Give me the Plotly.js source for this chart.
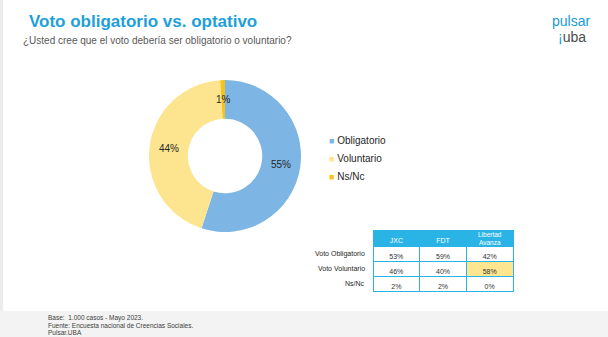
<!DOCTYPE html>
<html>
<head>
<meta charset="utf-8">
<script src="https://cdn.plot.ly/plotly-3.0.1.min.js"></script>
<style>
html,body{margin:0;padding:0;background:#fff;}
#chart{width:608px;height:337px;}
</style>
</head>
<body>
<div id="chart"></div>
<script>
// ---- data ----
const sliceLabels = ["Obligatorio", "Voluntario", "Ns/Nc"];
const sliceValues = [55, 44, 1];
const sliceColors = ["#7db6e4", "#fde590", "#f5c31c"];

const tableColumns = ["JXC", "FDT", "Libertad<br>Avanza"];
const tableRows = ["Voto Obligatorio", "Voto Voluntario", "Ns/Nc"];
const colJXC = ["53%", "46%", "2%"];
const colFDT = ["59%", "40%", "2%"];
const colLLA = ["42%", "58%", "0%"];

const titleText = "Voto obligatorio vs. optativo";
const subtitleText = "¿Usted cree que el voto debería ser obligatorio o voluntario?";
const footerLines = ["Base:  1.000 casos - Mayo 2023.", "Fuente: Encuesta nacional de Creencias Sociales.", "Pulsar.UBA"];

// ---- layout helpers ----
const W = 608, H = 337;
const px = x => x / W;
const py = y => 1 - y / H;

const pieCx = 225, pieCy = 156, pieR = 76, holeFrac = 0.49;
const FONT = "Liberation Sans, Arial, sans-serif";

const pie = {
  type: "pie",
  labels: sliceLabels,
  values: sliceValues,
  marker: {colors: sliceColors, line: {color: "#ffffff", width: 0}},
  hole: holeFrac,
  sort: false,
  direction: "clockwise",
  rotation: 0,
  textinfo: "none",
  hoverinfo: "label+percent",
  showlegend: false,
  domain: {x: [px(pieCx - pieR), px(pieCx + pieR)], y: [py(pieCy + pieR), py(pieCy - pieR)]}
};

// table geometry
const tX0 = 373, tX1 = 513, tY0 = 230, headH = 16, rowH = 15;
const fillCol = c => tableRows.map((r, i) => (c === 2 && i === 1) ? "#fde68f" : "#ffffff");
// header cells with multi-line labels are drawn as annotations on top of the header row
const headerSingle = tableColumns.map(t => t.indexOf("<br>") >= 0 ? "" : t);
const table = {
  type: "table",
  columnwidth: [1, 1, 1],
  domain: {x: [px(tX0), px(tX1)], y: [py(tY0 + headH + rowH * 3 + 2), py(tY0)]},
  header: {
    values: headerSingle,
    align: "center",
    height: headH,
    fill: {color: "#2ab4e6"},
    line: {color: "#2ab4e6", width: 1},
    font: {family: FONT, size: 7, color: "#ffffff"}
  },
  cells: {
    values: [colJXC, colFDT, colLLA],
    align: "center",
    height: rowH,
    fill: {color: [fillCol(0), fillCol(1), fillCol(2)]},
    line: {color: "#2ab4e6", width: 1},
    font: {family: FONT, size: 7, color: "#333333"}
  }
};

const annotations = [];
// title/subtitle
annotations.push({xref: "paper", yref: "paper", x: px(27), y: py(21), xanchor: "left", yanchor: "middle",
  text: "<b>" + titleText + "</b>", showarrow: false, font: {family: FONT, size: 17, color: "#1d9fdb"}});
annotations.push({xref: "paper", yref: "paper", x: px(21), y: py(41), xanchor: "left", yanchor: "middle",
  text: subtitleText, showarrow: false, font: {family: FONT, size: 10, color: "#595959"}});
// logo
annotations.push({xref: "paper", yref: "paper", x: px(571), y: py(21), xanchor: "center", yanchor: "middle",
  text: "pulsar", showarrow: false, borderpad: 0, font: {family: FONT, size: 14, color: "#1a9ad6"}});
annotations.push({xref: "paper", yref: "paper", x: px(572), y: py(37), xanchor: "center", yanchor: "middle",
  text: '<span style="color:#1a9ad6">¡</span>uba', showarrow: false, borderpad: 0, font: {family: FONT, size: 14, color: "#4d4d4d"}});

// multi-line header labels
const colW = (tX1 - tX0) / tableColumns.length;
tableColumns.forEach((t, i) => {
  if (t.indexOf("<br>") >= 0) {
    annotations.push({xref: "paper", yref: "paper", x: px(tX0 + colW * (i + 0.5)), y: py(tY0 + headH / 2), xanchor: "center", yanchor: "middle",
      text: t, showarrow: false, borderpad: 0, font: {family: FONT, size: 6.5, color: "#ffffff"}});
  }
});

// pie labels computed from the data
const total = sliceValues.reduce((a, b) => a + b, 0);
const rMid = pieR * (1 + holeFrac) / 2;
let cum = 0;
sliceValues.forEach((v, i) => {
  const a = 2 * Math.PI * (cum + v / 2) / total;
  cum += v;
  const x = pieCx + rMid * Math.sin(a);
  const y = pieCy - rMid * Math.cos(a);
  annotations.push({xref: "paper", yref: "paper", x: px(x), y: py(y), xanchor: "center", yanchor: "middle",
    text: v + "%", showarrow: false, font: {family: FONT, size: 10, color: "#262626"}});
});

// legend
sliceLabels.forEach((l, i) => {
  annotations.push({xref: "paper", yref: "paper", x: px(327), y: py(140 + 18 * i), xanchor: "left", yanchor: "middle",
    text: '<span style="color:' + sliceColors[i] + ';font-size:9px">■</span> ' + l, showarrow: false,
    font: {family: FONT, size: 10, color: "#262626"}});
});

// table row labels
tableRows.forEach((r, i) => {
  annotations.push({xref: "paper", yref: "paper", x: px(367), y: py(tY0 + headH + rowH * (i + 0.5)), xanchor: "right", yanchor: "middle",
    text: r, showarrow: false, font: {family: FONT, size: 7, color: "#262626"}});
});

// footer
footerLines.forEach((t, i) => {
  annotations.push({xref: "paper", yref: "paper", x: px(47), y: py(318 + 7 * i), xanchor: "left", yanchor: "middle",
    text: t, showarrow: false, borderpad: 0, font: {family: FONT, size: 6.5, color: "#404040"}});
});

const shapes = [
  {type: "rect", xref: "paper", yref: "paper", x0: 0, x1: px(3), y0: py(311), y1: 1, fillcolor: "#ececec", line: {width: 0}, layer: "below"},
  {type: "rect", xref: "paper", yref: "paper", x0: 0, x1: 1, y0: 0, y1: py(311), fillcolor: "#f3f3f3", line: {width: 0}, layer: "below"}
];

const layout = {
  width: W, height: H,
  margin: {l: 0, r: 0, t: 0, b: 0},
  paper_bgcolor: "#ffffff",
  showlegend: false,
  annotations: annotations,
  shapes: shapes,
  font: {family: FONT}
};

Plotly.newPlot("chart", [pie, table], layout, {displayModeBar: false, staticPlot: true});
</script>
</body>
</html>
